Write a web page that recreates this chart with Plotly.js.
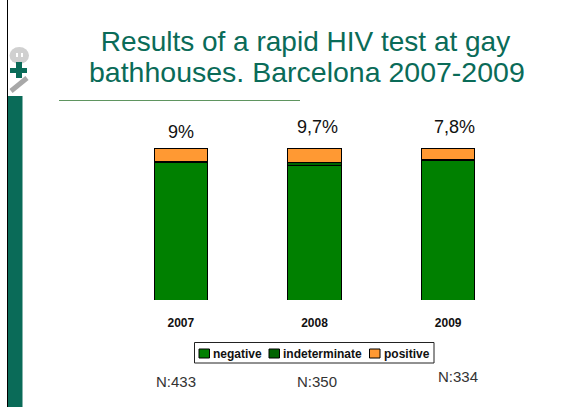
<!DOCTYPE html>
<html>
<head>
<meta charset="utf-8">
<script src="https://cdn.plot.ly/plotly-3.0.1.min.js"></script>
<style>html,body{margin:0;padding:0;background:#fff}#c{width:565px;height:407px}</style>
</head>
<body>
<div id="c"></div>
<script>
var years = ['2007', '2008', '2009'];
var seriesNames = ['negative', 'indeterminate', 'positive'];
var negative = [90.4, 88.8, 91.6];
var indeterminate = [0.6, 1.5, 0.6];
var positive = [9, 9.7, 7.8];
var positiveLabels = ['9%', '9,7%', '7,8%'];
var sampleLabels = ['N:433', 'N:350', 'N:334'];
var titleLines = ['Results of a rapid HIV test at gay', 'bathhouses. Barcelona 2007-2009'];
var seriesColors = ['#008000', '#006400', '#ff9933'];

var W = 565, H = 407;
function fx(x) { return x / W; }
function fy(y) { return 1 - y / H; }
var teal = '#0a6b58';
var positions = years.map(function (y, i) { return i; });

function bar(i, vals) {
  return {type: 'bar', name: seriesNames[i], x: positions, y: vals, width: 0.4,
    marker: {color: seriesColors[i], line: {color: '#000', width: 1}}, hoverinfo: 'x+y'};
}
var data = [bar(0, negative), bar(1, indeterminate), bar(2, positive)];

function rect(x0, y0, x1, y1, color, line) {
  return {type: 'rect', xref: 'paper', yref: 'paper', x0: fx(x0), x1: fx(x1), y0: fy(y0), y1: fy(y1),
    fillcolor: color, line: line || {width: 0}, layer: 'below'};
}
function text(x, y, str, size, color, extra) {
  var a = {xref: 'paper', yref: 'paper', x: fx(x), y: fy(y), text: str, showarrow: false,
    xanchor: 'center', yanchor: 'middle',
    font: {family: 'Liberation Sans', size: size, color: color}};
  for (var k in (extra || {})) a[k] = extra[k];
  return a;
}

var annotations = [
  text(307, 72, titleLines[1], 28.5, teal)
];
var labelX = [181, 317.5, 454];
var labelY = [132, 127, 127];
var nX = [176, 317, 458];
var nY = [381, 381, 376];
years.forEach(function (yr, i) {
  annotations.push(text(labelX[i], labelY[i], positiveLabels[i], 18, '#111'));
  annotations.push(text(nX[i], nY[i], sampleLabels[i], 15, '#333'));
});

var shapes = [
  rect(7, 0, 8, 407, '#000'),
  rect(8, 96, 22.5, 407, teal),
  rect(59, 100, 300, 101, '#5f9560'),
  {type: 'circle', xref: 'paper', yref: 'paper', x0: fx(9.5), x1: fx(29), y0: fy(47), y1: fy(64),
    fillcolor: '#d0d0d0', line: {width: 0}, layer: 'below'},
  rect(16, 53, 18, 57, '#fff'),
  rect(21, 53, 23, 57, '#fff'),
  rect(10, 68, 27, 73, teal),
  rect(16, 62, 22, 78, teal),
  {type: 'line', xref: 'paper', yref: 'paper', x0: fx(11), x1: fx(27), y0: fy(91), y1: fy(78),
    line: {color: '#a8a8a8', width: 5}, layer: 'below'},
  rect(194.5, 342.5, 434, 363, '#fff', {color: '#222', width: 1})
];

var swatchX = [199, 269, 369.5];
var nameX = [211, 281, 382];
seriesNames.forEach(function (n, i) {
  shapes.push(rect(swatchX[i], 349, swatchX[i] + 10.5, 358, seriesColors[i], {color: '#000', width: 1}));
  annotations.push(text(nameX[i], 353.5, n, 12, '#111',
    {xanchor: 'left', font: {family: 'Liberation Sans', size: 12, color: '#111', weight: 700}}));
});

var layout = {
  width: W, height: H,
  margin: {l: 0, r: 0, t: 0, b: 0},
  paper_bgcolor: '#fff', plot_bgcolor: '#fff',
  barmode: 'stack',
  title: {text: titleLines[0], x: 305.5 / W, xanchor: 'center', y: 1 - 41 / H, yanchor: 'middle',
    font: {family: 'Liberation Sans', size: 28, color: teal}},
  xaxis: {domain: [fx(114), fx(515)], range: [-0.5, 2.5], tickmode: 'array', tickvals: positions, ticktext: years,
    showline: false, showgrid: false, zeroline: false, ticks: '', ticklabelstandoff: 14,
    tickfont: {family: 'Liberation Sans', size: 12, color: '#111', weight: 700}},
  yaxis: {domain: [fy(300), fy(148)], range: [0, 100], visible: false},
  annotations: annotations,
  shapes: shapes,
  showlegend: false
};
Plotly.newPlot('c', data, layout, {displayModeBar: false, staticPlot: true});
</script>
</body>
</html>
